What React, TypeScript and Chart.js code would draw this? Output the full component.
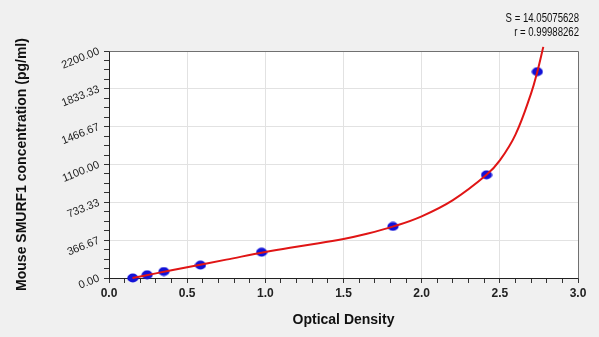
import React, { useEffect, useRef } from "react";
import { Chart, registerables } from "chart.js";

Chart.register(...registerables);

// Standards: optical density vs concentration
const STD_OD = [0.152, 0.244, 0.351, 0.585, 0.976, 1.816, 2.415, 2.74];
const STD_CONC = [0, 31.25, 62.5, 125, 250, 500, 1000, 2000];

// Fitted curve
const CURVE_OD = [0.15, 0.3, 0.5, 0.75, 1.0, 1.25, 1.5, 1.65, 1.82, 2.0, 2.2, 2.415, 2.5, 2.6, 2.7, 2.74, 2.778];
const CURVE_CONC = [0, 45, 105, 178, 252, 315, 378, 428, 500, 598, 755, 1000, 1140, 1390, 1790, 2000, 2240];

const X_TICK_LABELS = ["0.0", "0.5", "1.0", "1.5", "2.0", "2.5", "3.0"];
const Y_TICK_LABELS = ["0.00", "366.67", "733.33", "1100.00", "1466.67", "1833.33", "2200.00"];
const X_MINOR_PER_MAJOR = 5;
const Y_MINOR_PER_MAJOR = 4;
const X_MAX = 3;
const Y_MAX = 2200;

const FIT_TEXT = ["S = 14.05075628", "r = 0.99988262"];

function makeDot(): HTMLCanvasElement {
  const c = document.createElement("canvas");
  c.width = 12;
  c.height = 10;
  const g = c.getContext("2d")!;
  g.fillStyle = "rgb(18,18,215)";
  g.beginPath();
  g.ellipse(6, 5, 5.6, 4.4, 0, 0, Math.PI * 2);
  g.fill();
  return c;
}

export default function App() {
  const ref = useRef<HTMLCanvasElement>(null);

  useEffect(() => {
    document.body.style.margin = "0";
    document.body.style.background = "#f0f0f0";
    const dot = makeDot();

    const plotBg = {
      id: "plotBg",
      beforeDraw(chart: any) {
        const { ctx, chartArea: a } = chart;
        ctx.save();
        ctx.fillStyle = "#ffffff";
        ctx.fillRect(a.left, a.top, a.right - a.left, a.bottom - a.top);
        ctx.restore();
      },
      beforeDatasetsDraw(chart: any) {
        const { ctx, chartArea: a } = chart;
        ctx.save();
        ctx.strokeStyle = "#707070";
        ctx.lineWidth = 1;
        ctx.beginPath();
        ctx.moveTo(Math.round(a.left) + 0.5, Math.round(a.top) + 0.5);
        ctx.lineTo(Math.round(a.right) + 0.5, Math.round(a.top) + 0.5);
        ctx.lineTo(Math.round(a.right) + 0.5, Math.round(a.bottom) + 0.5);
        ctx.stroke();
        ctx.restore();
      },
      afterDraw(chart: any) {
        const { ctx } = chart;
        ctx.save();
        ctx.fillStyle = "#111";
        ctx.font = '12px "Liberation Sans", Arial, sans-serif';
        ctx.textAlign = "right";
        ctx.textBaseline = "alphabetic";
        FIT_TEXT.forEach((t, i) => {
          ctx.save();
          ctx.translate(579, 22 + i * 14);
          ctx.scale(0.8, 1);
          ctx.fillText(t, 0, 0);
          ctx.restore();
        });
        ctx.restore();
      },
    };

    const chart = new Chart(ref.current!, {
      type: "scatter",
      data: {
        datasets: [
          {
            type: "line",
            label: "fit",
            data: CURVE_OD.map((x, i) => ({ x, y: CURVE_CONC[i] })),
            borderColor: "#e01515",
            borderWidth: 2,
            pointRadius: 0,
            fill: false,
            tension: 0.4,
            clip: false as any,
          } as any,
          {
            type: "scatter",
            label: "standards",
            data: STD_OD.map((x, i) => ({ x, y: STD_CONC[i] })),
            pointStyle: dot as any,
            pointRadius: 5,
            backgroundColor: "rgb(18,18,215)",
            borderWidth: 0,
            clip: false as any,
          } as any,
        ],
      },
      options: {
        animation: false,
        responsive: false,
        maintainAspectRatio: false,
        layout: { padding: { top: 51, right: 21, left: 0, bottom: 0 } },
        plugins: {
          legend: { display: false },
          tooltip: { enabled: false },
        },
        scales: {
          x: {
            type: "linear",
            min: 0,
            max: X_MAX,
            afterBuildTicks(scale: any) {
              const n = (X_TICK_LABELS.length - 1) * X_MINOR_PER_MAJOR;
              const t = [];
              for (let i = 0; i <= n; i++) t.push({ value: (X_MAX * i) / n });
              scale.ticks = t;
            },
            afterFit(scale: any) {
              scale.height = 59;
            },
            ticks: {
              autoSkip: false,
              maxRotation: 0,
              minRotation: 0,
              padding: 3,
              color: "#222",
              font: { family: '"Liberation Sans", Arial, sans-serif', size: 12, weight: "bold" },
              callback: (_v: any, i: number) =>
                i % X_MINOR_PER_MAJOR === 0 ? X_TICK_LABELS[i / X_MINOR_PER_MAJOR] : "",
            },
            grid: {
              color: (c: any) => (c.index % X_MINOR_PER_MAJOR === 0 ? "#e2e2e2" : "rgba(0,0,0,0)"),
              tickColor: "#333",
              tickLength: 5,
              drawTicks: true,
            },
            border: { display: true, color: "#222", width: 1 },
            title: {
              display: true,
              text: "Optical Density",
              color: "#111",
              font: { family: '"Liberation Sans", Arial, sans-serif', size: 14, weight: "bold" },
              padding: { top: 0, bottom: 8 },
            },
          },
          y: {
            type: "linear",
            min: 0,
            max: Y_MAX,
            afterBuildTicks(scale: any) {
              const n = (Y_TICK_LABELS.length - 1) * Y_MINOR_PER_MAJOR;
              const t = [];
              for (let i = 0; i <= n; i++) t.push({ value: (Y_MAX * i) / n });
              scale.ticks = t;
            },
            afterFit(scale: any) {
              scale.width = 109;
            },
            ticks: {
              autoSkip: false,
              minRotation: 22,
              maxRotation: 22,
              padding: 5,
              color: "#222",
              font: { family: '"Liberation Sans", Arial, sans-serif', size: 11 },
              callback: (_v: any, i: number) =>
                i % Y_MINOR_PER_MAJOR === 0 ? Y_TICK_LABELS[i / Y_MINOR_PER_MAJOR] : "",
            },
            grid: {
              color: (c: any) => (c.index % Y_MINOR_PER_MAJOR === 0 ? "#e2e2e2" : "rgba(0,0,0,0)"),
              tickColor: "#333",
              tickLength: 5,
              drawTicks: true,
            },
            border: { display: true, color: "#222", width: 1 },
            title: {
              display: true,
              text: "Mouse SMURF1 concentration (pg/ml)",
              color: "#111",
              font: { family: '"Liberation Sans", Arial, sans-serif', size: 14, weight: "bold" },
              padding: { top: 14, bottom: 0 },
            },
          },
        },
      } as any,
      plugins: [plotBg],
    });

    return () => chart.destroy();
  }, []);

  return (
    <div style={{ width: 599, height: 337, background: "#f0f0f0" }}>
      <canvas ref={ref} width={599} height={337} style={{ display: "block" }} />
    </div>
  );
}
